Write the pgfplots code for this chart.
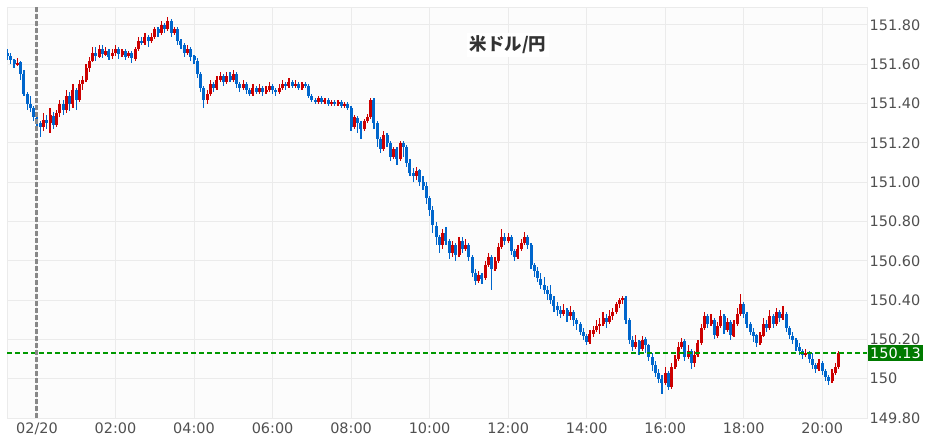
\documentclass[border=0pt]{standalone}
\usepackage{fontspec}
\setmainfont{DejaVu Sans}
\newfontfamily\cjk{Noto Sans CJK JP}
\usepackage{pgfplots}
\usepackage{pgfplotstable}
\pgfplotsset{compat=1.18}
\definecolor{cR}{HTML}{CC0000}
\definecolor{cB}{HTML}{0066CC}
\definecolor{gridc}{HTML}{EBEBEB}
\definecolor{bgc}{HTML}{FCFCFC}
\definecolor{lineG}{HTML}{009900}
\definecolor{boxG}{HTML}{007A00}
\definecolor{sepc}{HTML}{888888}
\definecolor{txt}{HTML}{505050}

\pgfplotstableread{
i o h l c
-9 151.66 151.68 151.62 151.64
-8 151.64 151.66 151.60 151.62
-7 151.62 151.63 151.58 151.60
-6 151.60 151.63 151.59 151.61
-5 151.61 151.62 151.52 151.55
-4 151.55 151.57 151.44 151.45
-3 151.45 151.46 151.37 151.40
-2 151.40 151.44 151.36 151.38
-1 151.38 151.39 151.31 151.33
0 151.33 151.35 151.28 151.30
1 151.30 151.31 151.23 151.28
2 151.28 151.35 151.26 151.32
3 151.32 151.34 151.27 151.30
4 151.30 151.38 151.25 151.34
5 151.34 151.36 151.27 151.29
6 151.29 151.37 151.28 151.35
7 151.35 151.42 151.33 151.40
8 151.40 151.42 151.34 151.37
9 151.37 151.47 151.35 151.44
10 151.44 151.46 151.36 151.40
11 151.40 151.50 151.38 151.47
12 151.47 151.48 151.37 151.42
13 151.42 151.52 151.41 151.50
14 151.50 151.54 151.47 151.52
15 151.52 151.60 151.51 151.58
16 151.58 151.64 151.56 151.62
17 151.62 151.69 151.61 151.66
18 151.66 151.69 151.62 151.64
19 151.64 151.70 151.63 151.68
20 151.68 151.70 151.63 151.65
21 151.65 151.69 151.64 151.67
22 151.67 151.68 151.62 151.64
23 151.64 151.68 151.63 151.66
24 151.66 151.70 151.64 151.68
25 151.68 151.69 151.63 151.65
26 151.65 151.68 151.64 151.67
27 151.67 151.68 151.62 151.64
28 151.64 151.67 151.63 151.66
29 151.66 151.67 151.61 151.63
30 151.63 151.69 151.62 151.68
31 151.68 151.74 151.67 151.72
32 151.72 151.74 151.70 151.71
33 151.71 151.76 151.70 151.74
34 151.74 151.75 151.69 151.72
35 151.72 151.76 151.71 151.74
36 151.74 151.79 151.73 151.78
37 151.78 151.79 151.74 151.76
38 151.76 151.82 151.75 151.80
39 151.80 151.81 151.76 151.78
40 151.78 151.84 151.77 151.82
41 151.82 151.83 151.74 151.76
42 151.76 151.79 151.75 151.78
43 151.78 151.79 151.70 151.72
44 151.72 151.73 151.68 151.70
45 151.70 151.71 151.64 151.66
46 151.66 151.70 151.65 151.68
47 151.68 151.69 151.62 151.64
48 151.64 151.65 151.60 151.62
49 151.62 151.63 151.53 151.55
50 151.55 151.56 151.46 151.48
51 151.48 151.49 151.38 151.42
52 151.42 151.47 151.40 151.45
53 151.45 151.52 151.44 151.50
54 151.50 151.51 151.46 151.48
55 151.48 151.54 151.47 151.52
56 151.52 151.56 151.51 151.54
57 151.54 151.55 151.49 151.51
58 151.51 151.56 151.50 151.54
59 151.54 151.56 151.51 151.52
60 151.52 151.57 151.51 151.55
61 151.55 151.56 151.48 151.50
62 151.50 151.51 151.46 151.48
63 151.48 151.52 151.47 151.50
64 151.50 151.51 151.45 151.47
65 151.47 151.48 151.44 151.45
66 151.45 151.50 151.44 151.48
67 151.48 151.49 151.45 151.46
68 151.46 151.50 151.45 151.48
69 151.48 151.49 151.44 151.46
70 151.46 151.49 151.45 151.47
71 151.47 151.51 151.46 151.49
72 151.49 151.50 151.45 151.47
73 151.47 151.48 151.44 151.46
74 151.46 151.50 151.45 151.48
75 151.48 151.52 151.47 151.50
76 151.50 151.51 151.47 151.49
77 151.49 151.53 151.48 151.51
78 151.51 151.52 151.48 151.49
79 151.49 151.52 151.48 151.50
80 151.50 151.51 151.47 151.48
81 151.48 151.51 151.47 151.50
82 151.50 151.51 151.48 151.49
83 151.49 151.50 151.43 151.44
84 151.44 151.45 151.41 151.42
85 151.42 151.43 151.40 151.41
86 151.41 151.44 151.40 151.43
87 151.43 151.44 151.40 151.41
88 151.41 151.43 151.40 151.42
89 151.42 151.43 151.39 151.40
90 151.40 151.42 151.39 151.41
91 151.41 151.42 151.39 151.40
92 151.40 151.42 151.39 151.41
93 151.41 151.42 151.38 151.39
94 151.39 151.41 151.38 151.40
95 151.40 151.41 151.37 151.38
96 151.38 151.39 151.26 151.28
97 151.28 151.34 151.27 151.33
98 151.33 151.34 151.25 151.30
99 151.30 151.31 151.22 151.27
100 151.27 151.32 151.26 151.31
101 151.31 151.35 151.30 151.33
102 151.33 151.43 151.32 151.42
103 151.42 151.43 151.27 151.30
104 151.30 151.31 151.18 151.22
105 151.22 151.23 151.15 151.17
106 151.17 151.26 151.16 151.24
107 151.24 151.25 151.18 151.20
108 151.20 151.21 151.11 151.13
109 151.13 151.18 151.12 151.17
110 151.17 151.18 151.09 151.12
111 151.12 151.21 151.11 151.20
112 151.20 151.21 151.13 151.18
113 151.18 151.19 151.08 151.10
114 151.10 151.12 151.03 151.05
115 151.05 151.07 151.00 151.03
116 151.03 151.08 151.01 151.06
117 151.06 151.07 150.98 151.00
118 151.00 151.03 150.96 150.98
119 150.98 151.00 150.89 150.92
120 150.92 150.93 150.83 150.86
121 150.86 150.88 150.74 150.78
122 150.78 150.80 150.68 150.72
123 150.72 150.73 150.64 150.68
124 150.68 150.76 150.66 150.74
125 150.74 150.77 150.68 150.70
126 150.70 150.71 150.61 150.64
127 150.64 150.70 150.62 150.68
128 150.68 150.69 150.60 150.63
129 150.63 150.72 150.62 150.70
130 150.70 150.72 150.64 150.66
131 150.66 150.71 150.65 150.68
132 150.68 150.69 150.60 150.62
133 150.62 150.63 150.52 150.54
134 150.54 150.56 150.48 150.50
135 150.50 150.55 150.49 150.53
136 150.53 150.54 150.48 150.51
137 150.51 150.60 150.50 150.58
138 150.58 150.64 150.57 150.62
139 150.62 150.63 150.45 150.56
140 150.56 150.62 150.55 150.60
141 150.60 150.69 150.59 150.67
142 150.67 150.76 150.66 150.72
143 150.72 150.74 150.68 150.70
144 150.70 150.74 150.69 150.72
145 150.72 150.73 150.63 150.65
146 150.65 150.66 150.60 150.62
147 150.62 150.68 150.61 150.66
148 150.66 150.71 150.65 150.69
149 150.69 150.75 150.68 150.72
150 150.72 150.73 150.66 150.68
151 150.68 150.69 150.56 150.58
152 150.58 150.59 150.52 150.55
153 150.55 150.57 150.49 150.51
154 150.51 150.54 150.46 150.48
155 150.48 150.52 150.43 150.45
156 150.45 150.47 150.40 150.43
157 150.43 150.48 150.38 150.40
158 150.40 150.42 150.34 150.37
159 150.37 150.39 150.32 150.35
160 150.35 150.37 150.31 150.33
161 150.33 150.38 150.32 150.35
162 150.35 150.36 150.29 150.32
163 150.32 150.37 150.30 150.34
164 150.34 150.35 150.27 150.30
165 150.30 150.31 150.25 150.28
166 150.28 150.29 150.22 150.24
167 150.24 150.26 150.20 150.22
168 150.22 150.23 150.17 150.19
169 150.19 150.25 150.18 150.23
170 150.23 150.27 150.21 150.25
171 150.25 150.30 150.24 150.27
172 150.27 150.31 150.23 150.28
173 150.28 150.34 150.27 150.31
174 150.31 150.33 150.26 150.29
175 150.29 150.35 150.28 150.32
176 150.32 150.36 150.30 150.34
177 150.34 150.39 150.33 150.38
178 150.38 150.41 150.36 150.40
179 150.40 150.42 150.38 150.41
180 150.41 150.42 150.28 150.30
181 150.30 150.31 150.18 150.20
182 150.20 150.22 150.14 150.16
183 150.16 150.22 150.15 150.19
184 150.19 150.20 150.12 150.15
185 150.15 150.22 150.14 150.20
186 150.20 150.21 150.13 150.17
187 150.17 150.18 150.09 150.11
188 150.11 150.13 150.04 150.07
189 150.07 150.09 150.01 150.03
190 150.03 150.05 149.98 150.00
191 150.00 150.02 149.92 149.98
192 149.98 150.06 149.97 150.03
193 150.03 150.04 149.94 149.96
194 149.96 150.08 149.95 150.06
195 150.06 150.12 150.05 150.10
196 150.10 150.19 150.09 150.16
197 150.16 150.21 150.15 150.19
198 150.19 150.20 150.09 150.11
199 150.11 150.17 150.10 150.14
200 150.14 150.15 150.05 150.08
201 150.08 150.14 150.06 150.12
202 150.12 150.20 150.11 150.18
203 150.18 150.28 150.17 150.26
204 150.26 150.34 150.25 150.32
205 150.32 150.33 150.26 150.28
206 150.28 150.33 150.27 150.30
207 150.30 150.31 150.20 150.22
208 150.22 150.29 150.21 150.27
209 150.27 150.35 150.26 150.32
210 150.32 150.33 150.23 150.25
211 150.25 150.31 150.24 150.29
212 150.29 150.30 150.20 150.22
213 150.22 150.30 150.21 150.28
214 150.28 150.36 150.27 150.33
215 150.33 150.43 150.32 150.38
216 150.38 150.39 150.31 150.33
217 150.33 150.34 150.26 150.28
218 150.28 150.29 150.22 150.24
219 150.24 150.26 150.19 150.22
220 150.22 150.23 150.16 150.18
221 150.18 150.24 150.17 150.22
222 150.22 150.31 150.21 150.28
223 150.28 150.30 150.24 150.26
224 150.26 150.35 150.25 150.32
225 150.32 150.33 150.26 150.28
226 150.28 150.36 150.27 150.34
227 150.34 150.35 150.29 150.31
228 150.31 150.37 150.30 150.33
229 150.33 150.34 150.24 150.26
230 150.26 150.27 150.20 150.22
231 150.22 150.24 150.18 150.20
232 150.20 150.21 150.14 150.16
233 150.16 150.18 150.12 150.14
234 150.14 150.15 150.10 150.12
235 150.12 150.15 150.11 150.13
236 150.13 150.14 150.08 150.10
237 150.10 150.13 150.05 150.07
238 150.07 150.08 150.03 150.05
239 150.05 150.10 150.04 150.08
240 150.08 150.09 150.02 150.04
241 150.04 150.05 149.99 150.01
242 150.01 150.02 149.97 149.99
243 149.99 150.05 149.98 150.03
244 150.03 150.08 150.02 150.06
245 150.06 150.14 150.05 150.13
}\candles

\begin{document}
\begin{tikzpicture}
\useasboundingbox (-7bp,-29bp) rectangle (933bp,418bp);
\begin{axis}[
  at={(0,0)}, anchor=south west,
  scale only axis, width=860bp, height=411bp,
  xmin=-0.764, xmax=21.14, ymin=149.8, ymax=151.8916,
  axis background/.style={fill=bgc},
  axis line style={draw=gridc},
  grid=major, major grid style={draw=gridc, line width=1bp},
  major tick length=0pt,
  xtick={0,2,...,20},
  xticklabels={02/20,02:00,04:00,06:00,08:00,10:00,12:00,14:00,16:00,18:00,20:00},
  ytick={149.8,150,150.2,150.4,150.6,150.8,151,151.2,151.4,151.6,151.8},
  yticklabels={149.80,150,150.20,150.40,150.60,150.80,151.00,151.20,151.40,151.60,151.80},
  yticklabel pos=right,
  every tick label/.append style={font=\fontsize{14.5}{17}\selectfont, text=txt},
  yticklabel style={anchor=west, inner xsep=0pt, xshift=2.5bp},
  xticklabel style={anchor=base, yshift=-15bp},
]
% wicks up
\addplot[forget plot, draw=none, mark=none,
  restrict expr to domain={\thisrow{c}-\thisrow{o}}{0:10},
  error bars/.cd, y dir=both, y explicit, error mark=none,
  error bar style={draw=cR, line width=1.2bp}]
  table[x expr=\thisrow{i}/12, y expr=(\thisrow{h}+\thisrow{l})/2, y error expr=(\thisrow{h}-\thisrow{l})/2] {\candles};
% bodies up
\addplot[forget plot, draw=none, mark=none,
  restrict expr to domain={\thisrow{c}-\thisrow{o}}{0:10},
  error bars/.cd, y dir=both, y explicit, error mark=none,
  error bar style={draw=cR, line width=3bp}]
  table[x expr=\thisrow{i}/12, y expr=(\thisrow{o}+\thisrow{c})/2, y error expr=abs(\thisrow{c}-\thisrow{o})/2] {\candles};
% wicks down
\addplot[forget plot, draw=none, mark=none,
  restrict expr to domain={\thisrow{c}-\thisrow{o}}{-10:0},
  error bars/.cd, y dir=both, y explicit, error mark=none,
  error bar style={draw=cB, line width=1.2bp}]
  table[x expr=\thisrow{i}/12, y expr=(\thisrow{h}+\thisrow{l})/2, y error expr=(\thisrow{h}-\thisrow{l})/2] {\candles};
% bodies down
\addplot[forget plot, draw=none, mark=none,
  restrict expr to domain={\thisrow{c}-\thisrow{o}}{-10:0},
  error bars/.cd, y dir=both, y explicit, error mark=none,
  error bar style={draw=cB, line width=3bp}]
  table[x expr=\thisrow{i}/12, y expr=(\thisrow{o}+\thisrow{c})/2, y error expr=abs(\thisrow{c}-\thisrow{o})/2] {\candles};
% current price line
\addplot[forget plot, draw=lineG, color=lineG, solid, line width=1.4bp, dash pattern=on 5bp off 3bp, mark=none] coordinates {(-0.764,150.13) (21.14,150.13)};
% day separator
\addplot[forget plot, draw=sepc, color=sepc, line width=3bp, dash pattern=on 5bp off 2bp, mark=none] coordinates {(0,149.8) (0,151.8916)};
\node[fill=white, inner sep=3bp, text=black!80, font=\cjk\bfseries\fontsize{17.5}{20}\selectfont] at (axis cs:12,151.70) {米ドル/円};
\coordinate (gl) at (axis cs:21.14,150.13);
\end{axis}
\node[fill=boxG, text=white, anchor=west, inner xsep=2bp, inner ysep=2.3bp, font=\fontsize{14.5}{17}\selectfont] at ([xshift=1bp]gl) {150.13};
\end{tikzpicture}
\end{document}
